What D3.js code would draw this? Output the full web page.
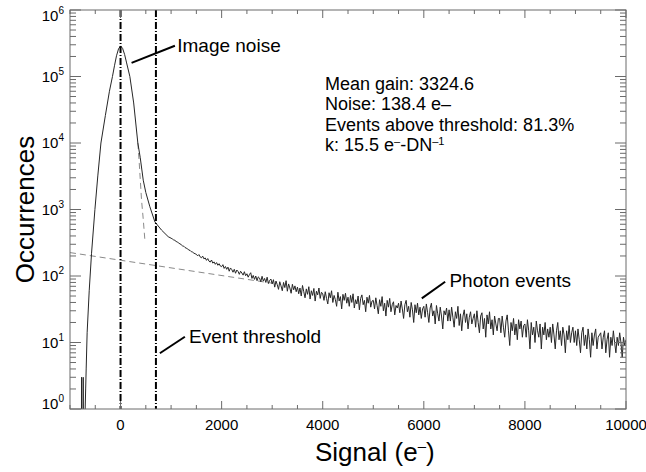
<!DOCTYPE html>
<html>
<head>
<meta charset="utf-8">
<script src="https://cdn.jsdelivr.net/npm/d3@7"></script>
<style>
  body { margin: 0; background: #fff; }
  text { font-family: "Liberation Sans", Arial, Helvetica, sans-serif; fill: #000; }
</style>
</head>
<body>
<svg id="chart" width="646" height="472"></svg>
<script>
// noise peak + shoulder (signal in e-, counts)
const peakSignal = [-775, -772, -769, -742, -739, -736, -712, -700, -690, -680, -661, -620, -574, -507, -450, -388, -300, -220, -160,
    -120, -80, -40, 0, 40, 80, 120, 184, 260, 342, 390, 449, 500, 580, 680, 811, 943];
const peakCounts = [0, 3, 0, 0, 3, 0, 0, 1, 2, 4, 14, 60, 220, 1000, 3200, 10000, 26000, 60000, 100000,
    145000, 205000, 260000, 288000, 265000, 215000, 160000, 100000, 40000, 10000, 6000, 2760, 1800, 1100, 650, 490, 390];

// photon event tail, one bin every 25 e- from 1000 to 10000
const tailSignal = d3.range(1000, 10001, 25);
const tailCounts = [
    370, 361, 349, 344, 330, 326, 311, 305, 296, 284, 281, 268, 262, 257, 245, 243, 232, 229, 221, 216,
    212, 201, 210, 194, 188, 199, 181, 187, 172, 183, 167, 162, 174, 156, 163, 150, 159, 145, 153, 141,
    138, 148, 130, 139, 126, 136, 118, 132, 125, 114, 126, 110, 123, 117, 106, 118, 111, 103, 116, 101,
    108, 96, 105, 112, 92, 102, 89, 100, 85, 97, 93, 82, 99, 84, 92, 80, 96, 77, 86, 90,
    76, 88, 68, 84, 74, 63, 82, 71, 60, 80, 67, 85, 59, 76, 66, 55, 75, 62, 71, 58,
    68, 54, 66, 50, 72, 58, 47, 64, 53, 69, 45, 60, 51, 65, 42, 59, 52, 66, 46, 57,
    54, 43, 58, 46, 38, 56, 47, 60, 40, 51, 44, 35, 57, 42, 49, 32, 53, 43, 55, 39,
    48, 35, 51, 40, 54, 33, 44, 38, 50, 31, 46, 52, 37, 43, 29, 48, 39, 51, 34, 42,
    43, 32, 47, 36, 27, 44, 35, 49, 30, 39, 25, 43, 34, 46, 29, 37, 41, 26, 36, 33,
    39, 28, 42, 32, 23, 37, 43, 29, 35, 24, 40, 31, 20, 37, 28, 39, 26, 34, 23, 32,
    35, 24, 38, 28, 20, 33, 39, 25, 30, 19, 36, 27, 21, 34, 25, 16, 30, 26, 33, 21,
    31, 21, 34, 24, 17, 29, 23, 35, 18, 27, 15, 25, 31, 20, 27, 16, 24, 29, 19, 23,
    27, 17, 30, 20, 14, 25, 28, 16, 23, 12, 26, 19, 29, 16, 22, 13, 25, 19, 15, 23,
    23, 14, 25, 17, 12, 21, 26, 15, 9, 20, 15, 23, 13, 19, 11, 22, 16, 21, 12, 18,
    19, 12, 22, 15, 8, 20, 13, 17, 10, 21, 15, 12, 19, 8, 17, 13, 20, 11, 16, 12,
    17, 10, 19, 13, 8, 15, 20, 11, 15, 9, 17, 13, 7, 15, 11, 18, 10, 14, 17, 10,
    15, 9, 16, 11, 7, 14, 17, 9, 13, 8, 16, 11, 6, 14, 9, 13, 16, 8, 12, 13,
    14, 8, 12, 15, 7, 11, 14, 6, 12, 9, 15, 10, 7, 12, 9, 14, 10, 6, 12, 9,
    11
];

// fitted curves (dashed gray)
const gaussFitSignal = [342, 370, 415, 450, 481];
const gaussFitCounts = [10000, 5000, 1400, 700, 350];
const expFitSignal = [-1000, 3000];
const expFitCounts = [225, 78];

// vertical markers: zero and event threshold
const markerSignal = [0, 700];

const xTickValues = [0, 2000, 4000, 6000, 8000, 10000];
const yDecades = [0, 1, 2, 3, 4, 5, 6];

const statLines = [
    ["Mean gain: 3324.6"],
    ["Noise: 138.4 e\u2013"],
    ["Events above threshold: 81.3%"],
    ["k: 15.5 e", "\u2013", "-DN", "\u20131"]
];

const svg = d3.select("#chart");
const margin = { top: 10, right: 20, bottom: 63, left: 70 };
const width = 646 - margin.left - margin.right;
const height = 472 - margin.top - margin.bottom;

const x = d3.scaleLinear().domain([-1000, 10000]).range([0, width]);
const y = d3.scaleLog().domain([1, 1e6]).range([height, 0]);

const g = svg.append("g").attr("transform", `translate(${margin.left},${margin.top})`);

svg.append("defs").append("clipPath").attr("id", "plot-clip")
    .append("rect").attr("width", width).attr("height", height);

const plot = g.append("g").attr("clip-path", "url(#plot-clip)");

const line = d3.line()
    .x(d => x(d[0]))
    .y(d => y(Math.max(d[1], 0.05)));

const hist = peakSignal.map((s, i) => [s, peakCounts[i]])
    .concat(tailSignal.map((s, i) => [s, tailCounts[i]]));

// fits
plot.append("path")
    .datum(expFitSignal.map((s, i) => [s, expFitCounts[i]]))
    .attr("fill", "none").attr("stroke", "#8a8a8a").attr("stroke-width", 1)
    .attr("stroke-dasharray", "6,4").attr("d", line);
plot.append("path")
    .datum(gaussFitSignal.map((s, i) => [s, gaussFitCounts[i]]))
    .attr("fill", "none").attr("stroke", "#8a8a8a").attr("stroke-width", 1)
    .attr("stroke-dasharray", "6,4").attr("d", line);

// histogram
plot.append("path")
    .datum(hist)
    .attr("fill", "none").attr("stroke", "#262626").attr("stroke-width", 1)
    .attr("d", line);

// markers
plot.selectAll(".marker").data(markerSignal).join("line")
    .attr("x1", d => x(d)).attr("x2", d => x(d))
    .attr("y1", 0).attr("y2", height)
    .attr("stroke", "#000").attr("stroke-width", 2)
    .attr("stroke-dasharray", "7,2,1,2");

// frame
g.append("rect").attr("width", width).attr("height", height)
    .attr("fill", "none").attr("stroke", "#6a6a6a").attr("stroke-width", 1);

// x ticks, inward on bottom and top
const xMinor = d3.range(-1000, 10001, 500);
const tickColor = "#6a6a6a";
xMinor.forEach(v => {
    const len = v % 2000 === 0 ? 8 : 4;
    g.append("line").attr("x1", x(v)).attr("x2", x(v)).attr("y1", height).attr("y2", height - len).attr("stroke", tickColor);
    g.append("line").attr("x1", x(v)).attr("x2", x(v)).attr("y1", 0).attr("y2", len).attr("stroke", tickColor);
});
g.selectAll(".xlab").data(xTickValues).join("text")
    .attr("x", d => x(d)).attr("y", height + 21)
    .attr("text-anchor", "middle").style("font-size", "15px")
    .text(d => d);

// y ticks, inward on left and right
yDecades.forEach(p => {
    const v = Math.pow(10, p);
    g.append("line").attr("x1", 0).attr("x2", 11).attr("y1", y(v)).attr("y2", y(v)).attr("stroke", tickColor);
    g.append("line").attr("x1", width).attr("x2", width - 11).attr("y1", y(v)).attr("y2", y(v)).attr("stroke", tickColor);
    if (p < 6) {
        for (let k = 2; k <= 9; k++) {
            const m = k * v;
            g.append("line").attr("x1", 0).attr("x2", 6).attr("y1", y(m)).attr("y2", y(m)).attr("stroke", tickColor);
            g.append("line").attr("x1", width).attr("x2", width - 6).attr("y1", y(m)).attr("y2", y(m)).attr("stroke", tickColor);
        }
    }
    const shift = p === 6 ? 6 : (p === 0 ? -5 : 0);
    const t = g.append("text")
        .attr("x", -6).attr("y", y(v) + shift + 5)
        .attr("text-anchor", "end").style("font-size", "15px");
    t.append("tspan").text("10");
    t.append("tspan").attr("dy", -7).style("font-size", "10px").text(p);
});

// axis titles
svg.append("text")
    .attr("x", 315).attr("y", 461)
    .style("font-size", "26px")
    .call(t => {
        t.append("tspan").text("Signal (e");
        t.append("tspan").attr("dy", -10).style("font-size", "15px").text("\u2013");
        t.append("tspan").attr("dy", 10).text(")");
    });
svg.append("text")
    .attr("transform", `translate(34,${margin.top + height / 2}) rotate(-90)`)
    .attr("text-anchor", "middle")
    .style("font-size", "26px")
    .text("Occurrences");

// annotations: label, pointer start, pointer end, text anchor in data units
const annotations = [
    { label: "Image noise", from: [218, 160000], to: [1075, 290000], at: [1121, 237000] },
    { label: "Event threshold", from: [778, 6.9], to: [1273, 12.2], at: [1356, 9.9] },
    { label: "Photon events", from: [5960, 46], to: [6422, 82], at: [6507, 67.6] }
];
annotations.forEach(a => {
    g.append("line")
        .attr("x1", x(a.from[0])).attr("y1", y(a.from[1]))
        .attr("x2", x(a.to[0])).attr("y2", y(a.to[1]))
        .attr("stroke", "#000").attr("stroke-width", 2);
    g.append("text")
        .attr("x", x(a.at[0])).attr("y", y(a.at[1]))
        .style("font-size", "19px")
        .text(a.label);
});

// fit results
statLines.forEach((parts, i) => {
    const t = svg.append("text")
        .attr("x", 325).attr("y", 90 + i * 20.3)
        .style("font-size", "18px");
    if (parts.length === 1) {
        t.text(parts[0]);
    } else {
        t.append("tspan").text(parts[0]);
        t.append("tspan").attr("dy", -6).style("font-size", "11px").text(parts[1]);
        t.append("tspan").attr("dy", 6).text(parts[2]);
        t.append("tspan").attr("dy", -6).style("font-size", "11px").text(parts[3]);
    }
});
</script>
</body>
</html>
